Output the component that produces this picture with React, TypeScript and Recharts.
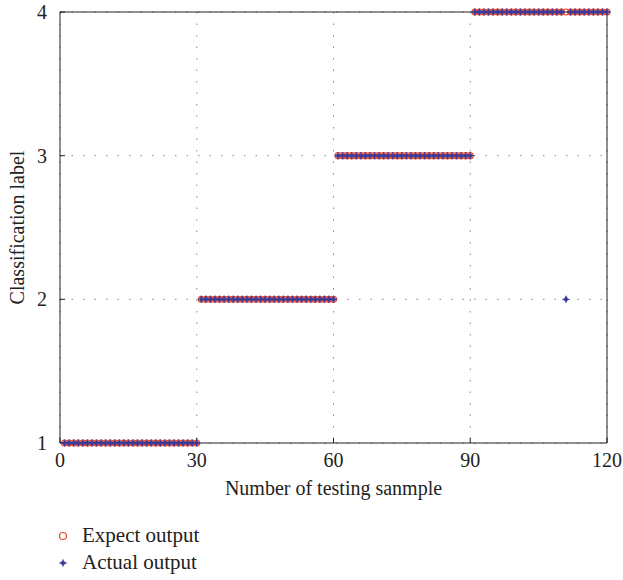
import { ScatterChart, Scatter, XAxis, YAxis, CartesianGrid, Legend, ReferenceLine } from "recharts";

const sampleIds: number[] = Array.from({ length: 120 }, (_, i) => i + 1);
const expectLabels: number[] = sampleIds.map((n) => (n <= 30 ? 1 : n <= 60 ? 2 : n <= 90 ? 3 : 4));
const actualLabels: number[] = sampleIds.map((n, i) => (n === 111 ? 2 : expectLabels[i]));
const xTicks = [0, 30, 60, 90, 120];
const yTicks = [1, 2, 3, 4];

const expectData = sampleIds.map((x, i) => ({ x, y: expectLabels[i] }));
const actualData = sampleIds.map((x, i) => ({ x, y: actualLabels[i] }));

const RED = "#e8492f";
const BLUE = "#3b3a98";
const FONT = "'Liberation Serif', 'DejaVu Serif', serif";

const Ring = (props: any) => (
  <circle cx={props.cx} cy={props.cy} r={3} fill="none" stroke={RED} strokeWidth={1.2} />
);

const Star = (props: any) => {
  const { cx, cy } = props;
  return (
    <path
      d={`M${cx - 3.5},${cy} L${cx + 3.5},${cy} M${cx},${cy - 3.5} L${cx},${cy + 3.5} M${cx - 1.5},${cy - 1.5} L${cx + 1.5},${cy + 1.5} M${cx - 1.5},${cy + 1.5} L${cx + 1.5},${cy - 1.5}`}
      stroke={BLUE}
      strokeWidth={1.4}
    />
  );
};

const LegendBox = () => (
  <div style={{ fontFamily: FONT, fontSize: 21, color: "#222", paddingLeft: 55 }}>
    <div style={{ display: "flex", alignItems: "center", height: 27 }}>
      <svg width={27} height={12}>
        <circle cx={8} cy={6} r={3.5} fill="none" stroke={RED} strokeWidth={1.2} />
      </svg>
      <span>Expect output</span>
    </div>
    <div style={{ display: "flex", alignItems: "center", height: 27 }}>
      <svg width={27} height={12}>
        <Star cx={8} cy={6} />
      </svg>
      <span>Actual output</span>
    </div>
  </div>
);

export default function App() {
  return (
    <div style={{ width: 623, height: 580, background: "#fff" }}>
      <style>{"body{margin:0}"}</style>
      <ScatterChart width={623} height={580} margin={{ top: 12, right: 16, left: 0, bottom: 4 }}>
        <CartesianGrid stroke="#888" strokeDasharray="1.5 10" vertical horizontal />
        <XAxis
          type="number"
          dataKey="x"
          domain={[0, 120]}
          ticks={xTicks}
          interval={0}
          height={79}
          tickSize={-5}
          tickMargin={15}
          stroke="#222"
          tick={{ fill: "#222", fontSize: 20, fontFamily: FONT }}
          label={{ value: "Number of testing sanmple", position: "insideTop", offset: 38, fill: "#222", fontSize: 20, fontFamily: FONT }}
        />
        <YAxis
          type="number"
          dataKey="y"
          domain={[1, 4]}
          ticks={yTicks}
          interval={0}
          width={60}
          tickSize={-5}
          tickMargin={18}
          stroke="#222"
          tick={{ fill: "#222", fontSize: 20, fontFamily: FONT }}
          label={{ value: "Classification label", angle: -90, position: "insideLeft", offset: 17, style: { textAnchor: "middle" }, fill: "#222", fontSize: 20, fontFamily: FONT }}
        />
        <ReferenceLine y={4} stroke="#222" strokeWidth={1} />
        <ReferenceLine x={120} stroke="#222" strokeWidth={1} />
        <Legend verticalAlign="bottom" align="left" height={54} content={<LegendBox />} />
        <Scatter name="Expect output" data={expectData} shape={Ring} isAnimationActive={false} />
        <Scatter name="Actual output" data={actualData} shape={Star} isAnimationActive={false} />
      </ScatterChart>
    </div>
  );
}
